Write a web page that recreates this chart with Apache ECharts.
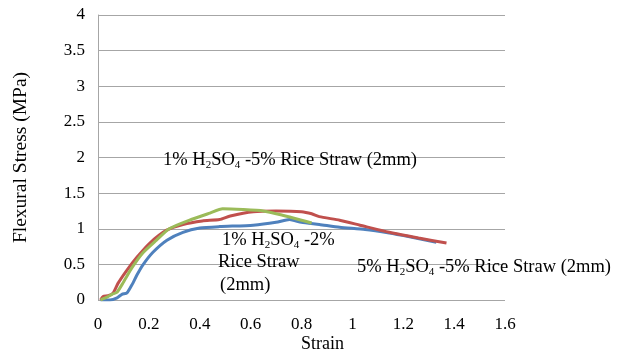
<!DOCTYPE html>
<html>
<head>
<meta charset="utf-8">
<script src="https://cdn.jsdelivr.net/npm/echarts@6/dist/echarts.min.js"></script>
<style>
  html, body { margin: 0; padding: 0; background: #fff; }
  #chart { width: 623px; height: 350px; }
</style>
</head>
<body>
<div id="chart"></div>
<script>
// Flexural stress-strain curves, three rice straw / H2SO4 mixes
const blueStrain  = [0.01, 0.047, 0.075, 0.094, 0.114, 0.133, 0.153, 0.176, 0.216, 0.271, 0.334, 0.40, 0.478, 0.61, 0.70, 0.753, 0.80, 0.87, 0.95, 1.05, 1.145, 1.22, 1.33];
const blueStress  = [0.0, 0.0, 0.03, 0.08, 0.10, 0.21, 0.35, 0.49, 0.67, 0.84, 0.95, 1.01, 1.03, 1.05, 1.09, 1.13, 1.09, 1.06, 1.02, 0.99, 0.94, 0.89, 0.81];

const redStrain   = [0.01, 0.02, 0.04, 0.06, 0.078, 0.114, 0.153, 0.204, 0.27, 0.334, 0.41, 0.478, 0.52, 0.61, 0.70, 0.80, 0.84, 0.87, 0.95, 1.03, 1.145, 1.26, 1.37];
const redStress   = [0.0, 0.05, 0.06, 0.10, 0.23, 0.42, 0.60, 0.80, 0.98, 1.06, 1.11, 1.13, 1.18, 1.24, 1.25, 1.24, 1.21, 1.17, 1.12, 1.05, 0.95, 0.87, 0.80];

const greenStrain = [0.01, 0.035, 0.055, 0.075, 0.10, 0.133, 0.176, 0.23, 0.28, 0.36, 0.44, 0.49, 0.57, 0.65, 0.725, 0.80, 0.84];
const greenStress = [0.0, 0.04, 0.08, 0.11, 0.25, 0.45, 0.66, 0.84, 1.0, 1.12, 1.22, 1.28, 1.27, 1.25, 1.19, 1.12, 1.08];

const xTicks = { min: 0, max: 1.6, interval: 0.2 };
const yTicks = { min: 0, max: 4, interval: 0.5 };

const pairs = (xs, ys) => xs.map((x, i) => [x, ys[i]]);

const serif = '"Liberation Serif", "Times New Roman", serif';
const rich = {
  n:   { fontFamily: serif, fontSize: 18.5, color: '#000' },
  sub: { fontFamily: serif, fontSize: 11, color: '#000', padding: [11, 0, 0, 0] }
};

const chart = echarts.init(document.getElementById('chart'), null, { renderer: 'canvas' });

const lineSeries = (name, color, xs, ys) => ({
  name, type: 'line', data: pairs(xs, ys), showSymbol: false, smooth: 0.2,
  lineStyle: { color, width: 3 }, itemStyle: { color }
});

// annotation text, vertically centred on y
const note = (x, y, text) => ({
  type: 'text', x, y, z: 10,
  style: { text, rich, verticalAlign: 'middle' }
});

chart.setOption({
  animation: false,
  backgroundColor: '#fff',
  grid: { left: 98, right: 118, top: 15, bottom: 50, outerBoundsMode: 'none', containLabel: false },
  xAxis: {
    type: 'value', min: xTicks.min, max: xTicks.max, interval: xTicks.interval,
    name: 'Strain', nameLocation: 'middle', nameGap: 35, nameMoveOverlap: false,
    nameTextStyle: { fontFamily: serif, fontSize: 18, color: '#000', padding: [0, 0, 0, 42] },
    axisLine: { show: false }, axisTick: { show: false },
    splitLine: { show: false },
    axisLabel: { fontFamily: serif, fontSize: 17, color: '#000', margin: 16,
      formatter: v => String(+v.toFixed(1)) }
  },
  yAxis: {
    type: 'value', min: yTicks.min, max: yTicks.max, interval: yTicks.interval,
    name: 'Flexural Stress (MPa)', nameLocation: 'middle', nameGap: 67, nameMoveOverlap: false,
    nameTextStyle: { fontFamily: serif, fontSize: 19.5, color: '#000' },
    axisLine: { show: true, lineStyle: { color: '#a6a6a6', width: 1 } },
    axisTick: { show: false },
    splitLine: { show: true, lineStyle: { color: '#a6a6a6', width: 1 } },
    axisLabel: { fontFamily: serif, fontSize: 17, color: '#000', margin: 13,
      formatter: v => String(+v.toFixed(1)) }
  },
  series: [
    lineSeries('5% H2SO4 -5% Rice Straw (2mm)', '#4f81bd', blueStrain, blueStress),
    lineSeries('1% H2SO4 -5% Rice Straw (2mm)', '#c0504d', redStrain, redStress),
    lineSeries('1% H2SO4 -2% Rice Straw (2mm)', '#9bbb59', greenStrain, greenStress)
  ],
  graphic: [
    note(163, 160, '{n|1% H}{sub|2}{n|SO}{sub|4}{n| -5% Rice Straw (2mm)}'),
    note(222, 240, '{n|1% H}{sub|2}{n|SO}{sub|4}{n| -2%}'),
    note(218, 262, '{n|Rice Straw}'),
    note(220, 285, '{n|(2mm)}'),
    note(357, 267, '{n|5% H}{sub|2}{n|SO}{sub|4}{n| -5% Rice Straw (2mm)}')
  ]
});
</script>
</body>
</html>
